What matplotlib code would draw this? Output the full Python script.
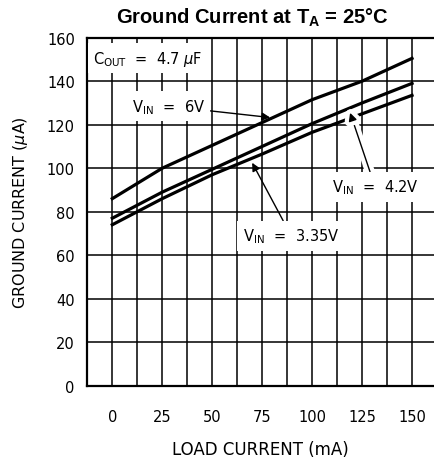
import numpy as np
import matplotlib
matplotlib.use("Agg")
import matplotlib.pyplot as plt
import matplotlib.patheffects as pe
from matplotlib.ticker import MultipleLocator

# data
load_ma = [0, 25, 50, 75, 100, 125, 150]
i_gnd_6v = [86, 100, 110.5, 121, 131.5, 140, 150.5]
i_gnd_42v = [77, 89, 99.5, 110, 120.5, 130, 139]
i_gnd_335v = [74, 86, 97, 106.5, 116.5, 125, 133.5]

x_ticks = [0, 25, 50, 75, 100, 125, 150]
y_ticks = [0, 20, 40, 60, 80, 100, 120, 140, 160]

plt.rcParams["font.family"] = ["DejaVu Sans"]
plt.rcParams["mathtext.fontset"] = "custom"
plt.rcParams["mathtext.rm"] = "DejaVu Sans"
plt.rcParams["mathtext.it"] = "DejaVu Sans:italic"
plt.rcParams["mathtext.bf"] = "Liberation Sans:bold"

fig = plt.figure(figsize=(4.34, 4.64), dpi=100)
ax = fig.add_axes([0.2012, 0.1666, 0.7988, 0.75])

ax.set_xlim(-12.5, 161)
ax.set_ylim(0, 160)
ax.set_xticks(x_ticks)
ax.xaxis.set_minor_locator(MultipleLocator(12.5))
ax.set_yticks(y_ticks)
ax.grid(True, which="both", color="black", lw=1.1)
ax.set_axisbelow(True)
ax.tick_params(which="both", length=0, labelsize=10.5)
ax.tick_params(axis="x", pad=17)
ax.tick_params(axis="y", pad=9)
for s in ["left", "bottom", "top"]:
    ax.spines[s].set_linewidth(1.6)
ax.spines["right"].set_visible(False)

lw = 2.3
ax.plot(load_ma, i_gnd_6v, color="black", lw=lw, zorder=3)
ax.plot(load_ma, i_gnd_42v, color="black", lw=lw, zorder=3)
ax.plot(load_ma, i_gnd_335v, color="black", lw=lw, zorder=3)

box = dict(facecolor="white", edgecolor="none", pad=4)
fs = 10.5

ax.text(-9.5, 150.5, r"C$_{\rm OUT}$  =  4.7 $\mu$F", fontsize=fs,
        va="center", ha="left", bbox=box, zorder=4)

ax.annotate(r"V$_{\rm IN}$  =  6V", xy=(79, 123.3), xytext=(28, 128.5),
            fontsize=fs, ha="center", va="center", bbox=box, zorder=4,
            arrowprops=dict(arrowstyle="-|>", color="black", lw=1.0,
                            mutation_scale=12, shrinkA=0, shrinkB=0))

ann = ax.annotate(r"V$_{\rm IN}$  =  4.2V", xy=(119, 125.5), xytext=(131.5, 91.5),
                  fontsize=fs, ha="center", va="center", bbox=box, zorder=4,
                  arrowprops=dict(arrowstyle="-|>", color="black", lw=1.0,
                                  mutation_scale=12, shrinkA=0, shrinkB=0))
ann.arrow_patch.set_path_effects([pe.Stroke(linewidth=7, foreground="white"), pe.Normal()])

ax.annotate(r"V$_{\rm IN}$  =  3.35V", xy=(70, 102.5), xytext=(89.5, 69),
            fontsize=fs, ha="center", va="center", bbox=box, zorder=4,
            arrowprops=dict(arrowstyle="-|>", color="black", lw=1.0,
                            mutation_scale=12, shrinkA=0, shrinkB=0))

ax.set_xlabel("LOAD CURRENT (mA)", fontsize=12, labelpad=11)
ax.set_ylabel(r"GROUND CURRENT ($\mu$A)", fontsize=11.5, labelpad=12)

fig.text(0.582, 0.961, r"Ground Current at $\mathbf{T}_\mathbf{A}$ = 25°C",
         family="Liberation Sans", fontweight="bold", fontsize=14.5,
         ha="center", va="center")

fig.savefig("out.png", dpi=100)
